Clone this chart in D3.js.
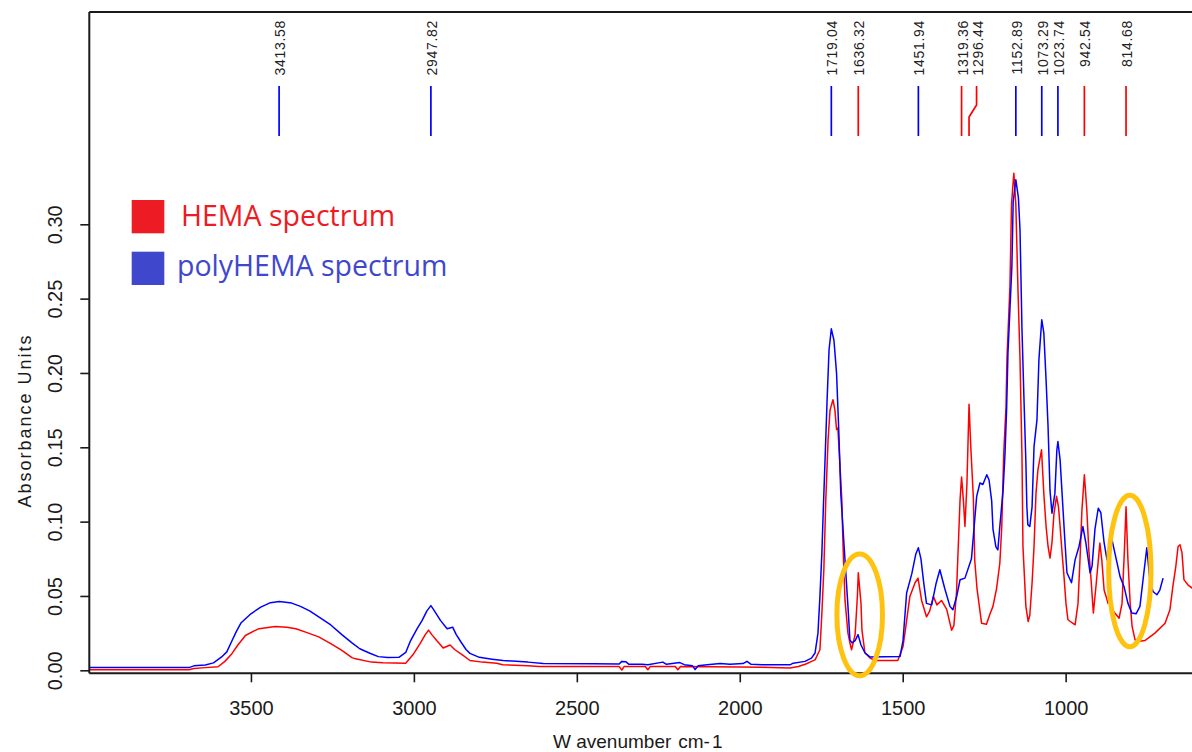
<!DOCTYPE html>
<html>
<head>
<meta charset="utf-8">
<script src="https://cdn.jsdelivr.net/npm/d3@7"></script>
<style>
  html, body { margin: 0; padding: 0; background: #fff; }
  svg { display: block; }
  .axis text { font-family: "Liberation Sans", Arial, sans-serif; fill: #1a1a1a; }
</style>
</head>
<body>
<svg id="chart" width="1192" height="752"></svg>
<script>
// ---- FTIR absorbance spectra (wavenumber in cm-1, absorbance units) ----
const hemaWavenumber = [
  4000, 3690, 3675, 3640, 3601, 3580, 3559, 3540, 3517, 3490, 3475, 3425, 3390, 3362, 3330, 3292,
  3255, 3221, 3190, 3179, 3130, 3095, 3025, 3003, 2981, 2965, 2955, 2945, 2930, 2910, 2889, 2875,
  2848, 2828, 2790, 2746, 2727, 2650, 2616, 2450, 2370, 2362, 2355, 2290, 2282, 2275, 2198, 2190,
  2182, 2000, 1933, 1846, 1820, 1795, 1780, 1769, 1754, 1748, 1742, 1736, 1729, 1723, 1714, 1708,
  1703, 1699, 1693, 1687, 1683, 1677, 1668, 1662, 1657, 1646, 1639, 1636.32, 1628, 1625, 1616, 1601,
  1585, 1515, 1499, 1490, 1478, 1462, 1453, 1442, 1427, 1417, 1406, 1395, 1381, 1365, 1350, 1343,
  1335, 1324, 1319.36, 1314, 1309, 1303, 1296.44, 1291, 1283, 1279, 1272, 1258, 1243, 1232, 1223, 1212,
  1202, 1196, 1190, 1183, 1180, 1174, 1171, 1166, 1159, 1153, 1146, 1140, 1134, 1131, 1126, 1122,
  1115, 1110, 1103, 1097, 1091, 1085, 1074, 1067, 1060, 1054, 1048, 1042, 1036, 1028, 1022, 1017,
  1011, 1005, 999, 993, 971, 962, 956, 950, 942.54, 935, 929, 922, 915, 907, 895, 889,
  882, 876, 870, 864, 858, 849, 836, 827, 820, 814.68, 809, 802, 796, 787, 778, 757,
  726, 695, 680, 671, 662, 655, 649, 643, 637, 625, 612, 597
];
const hemaAbsorbance = [
  0.0004, 0.0004, 0.0012, 0.0018, 0.0024, 0.0060, 0.0110, 0.0170, 0.0234, 0.0265, 0.0280, 0.0295, 0.0290, 0.0280, 0.0255, 0.0225,
  0.0180, 0.0134, 0.0085, 0.0077, 0.0055, 0.0050, 0.0048, 0.0104, 0.0180, 0.0240, 0.0270, 0.0240, 0.0200, 0.0150, 0.0170, 0.0140,
  0.0098, 0.0066, 0.0055, 0.0048, 0.0037, 0.0030, 0.0026, 0.0025, 0.0025, 0.0002, 0.0025, 0.0025, 0.0004, 0.0025, 0.0025, 0.0004,
  0.0025, 0.0022, 0.0020, 0.0015, 0.0025, 0.0044, 0.0060, 0.0070, 0.0138, 0.0385, 0.0676, 0.1147, 0.1550, 0.1750, 0.1820, 0.1750,
  0.1620, 0.1630, 0.1400, 0.1150, 0.0830, 0.0470, 0.0250, 0.0185, 0.0138, 0.0240, 0.0500, 0.0656, 0.0450, 0.0270, 0.0118, 0.0084,
  0.0066, 0.0066, 0.0160, 0.0300, 0.0497, 0.0589, 0.0620, 0.0470, 0.0360, 0.0400, 0.0497, 0.0440, 0.0470, 0.0410, 0.0270, 0.0300,
  0.0520, 0.1147, 0.1300, 0.1150, 0.0967, 0.1250, 0.1790, 0.1500, 0.1150, 0.0740, 0.0550, 0.0317, 0.0310, 0.0380, 0.0430, 0.0550,
  0.0720, 0.0967, 0.1460, 0.1770, 0.2100, 0.2420, 0.2580, 0.3140, 0.3344, 0.3140, 0.2540, 0.2090, 0.1438, 0.0833, 0.0610, 0.0430,
  0.0328, 0.0370, 0.0589, 0.0833, 0.1190, 0.1350, 0.1483, 0.1190, 0.0967, 0.0833, 0.0755, 0.0858, 0.1050, 0.1170, 0.1100, 0.0967,
  0.0790, 0.0630, 0.0450, 0.0340, 0.0306, 0.0450, 0.0743, 0.1080, 0.1315, 0.1080, 0.0810, 0.0610, 0.0385, 0.0564, 0.0856, 0.0740,
  0.0540, 0.0497, 0.0450, 0.0497, 0.0410, 0.0385, 0.0350, 0.0450, 0.0790, 0.1100, 0.0750, 0.0450, 0.0295, 0.0205, 0.0194, 0.0200,
  0.0250, 0.0317, 0.0407, 0.0564, 0.0698, 0.0833, 0.0844, 0.0790, 0.0610, 0.0575, 0.0553, 0.0550
];

const polyWavenumber = [
  4000, 3690, 3675, 3640, 3615, 3590, 3574, 3560, 3545, 3530, 3500, 3470, 3440, 3413.58, 3400, 3375,
  3348, 3320, 3292, 3255, 3221, 3190, 3166, 3135, 3109, 3080, 3046, 3025, 3010, 2990, 2975, 2960,
  2947.82, 2940, 2918, 2898, 2881, 2870, 2856, 2840, 2828, 2799, 2760, 2726, 2650, 2603, 2450, 2370,
  2362, 2350, 2340, 2300, 2282, 2236, 2225, 2184, 2170, 2145, 2137, 2128, 2100, 2060, 2030, 1990,
  1978, 1965, 1932, 1846, 1836, 1800, 1780, 1769, 1760, 1754, 1748, 1744, 1739, 1732, 1726, 1719.04,
  1711, 1703, 1696, 1690, 1677, 1668, 1662, 1656, 1646, 1637, 1628, 1616, 1601, 1508, 1499, 1488,
  1472, 1460, 1451.94, 1444, 1435, 1427, 1411, 1398, 1386, 1371, 1355, 1346, 1334, 1324, 1309, 1289,
  1273, 1263, 1254, 1242, 1235, 1227, 1223, 1214, 1208, 1202, 1192, 1186, 1181, 1177, 1171, 1165,
  1161, 1152.89, 1145, 1140, 1134, 1128, 1122, 1119, 1116, 1110, 1103, 1097, 1088, 1082, 1073.29, 1067,
  1060, 1054, 1048, 1042, 1033, 1027, 1023.74, 1017, 1011, 1002, 996, 982, 971, 959, 947, 938,
  925, 919, 910, 900, 892, 882, 873, 864, 859, 849, 833, 821, 809, 797, 784, 772,
  760, 751, 742, 732, 720, 711, 701
];
const polyAbsorbance = [
  0.0018, 0.0018, 0.0030, 0.0035, 0.0050, 0.0090, 0.0124, 0.0190, 0.0260, 0.0320, 0.0380, 0.0425, 0.0455, 0.0463, 0.0460, 0.0452,
  0.0430, 0.0400, 0.0360, 0.0305, 0.0240, 0.0185, 0.0145, 0.0115, 0.0092, 0.0086, 0.0087, 0.0120, 0.0200, 0.0280, 0.0334, 0.0400,
  0.0435, 0.0410, 0.0334, 0.0280, 0.0290, 0.0240, 0.0192, 0.0140, 0.0114, 0.0087, 0.0075, 0.0066, 0.0055, 0.0045, 0.0044, 0.0042,
  0.0060, 0.0058, 0.0040, 0.0040, 0.0038, 0.0055, 0.0040, 0.0052, 0.0038, 0.0030, 0.0005, 0.0030, 0.0038, 0.0045, 0.0040, 0.0045,
  0.0060, 0.0040, 0.0037, 0.0037, 0.0048, 0.0060, 0.0082, 0.0116, 0.0250, 0.0497, 0.0790, 0.1060, 0.1370, 0.1820, 0.2156, 0.2297,
  0.2220, 0.2000, 0.1600, 0.1190, 0.0740, 0.0430, 0.0205, 0.0185, 0.0200, 0.0240, 0.0170, 0.0118, 0.0090, 0.0093, 0.0200, 0.0520,
  0.0650, 0.0780, 0.0824, 0.0750, 0.0580, 0.0450, 0.0440, 0.0580, 0.0676, 0.0550, 0.0430, 0.0407, 0.0500, 0.0609, 0.0620, 0.0750,
  0.1170, 0.1260, 0.1250, 0.1315, 0.1280, 0.1140, 0.0950, 0.0830, 0.0810, 0.0967, 0.1210, 0.1460, 0.1770, 0.2135, 0.2425, 0.2716,
  0.3150, 0.3300, 0.3180, 0.2960, 0.2290, 0.1833, 0.1396, 0.1100, 0.0980, 0.0967, 0.1100, 0.1505, 0.1685, 0.2090, 0.2358, 0.2270,
  0.1950, 0.1640, 0.1210, 0.1057, 0.1190, 0.1480, 0.1539, 0.1416, 0.1190, 0.0858, 0.0656, 0.0589, 0.0743, 0.0833, 0.0967, 0.0858,
  0.0656, 0.0700, 0.0950, 0.1090, 0.1060, 0.0858, 0.0743, 0.0850, 0.0890, 0.0790, 0.0630, 0.0564, 0.0452, 0.0385, 0.0380, 0.0430,
  0.0656, 0.0824, 0.0620, 0.0530, 0.0508, 0.0540, 0.0620
];

// Assigned band positions; each marker takes the colour of the spectrum it belongs to
const peakWavenumbers = [3413.58, 2947.82, 1719.04, 1636.32, 1451.94, 1319.36, 1296.44, 1152.89, 1073.29, 1023.74, 942.54, 814.68];
const peakSeries      = ["poly", "poly", "poly", "hema", "poly", "hema", "hema", "poly", "poly", "poly", "hema", "hema"];

// Regions highlighted with ellipses: [centre wavenumber, centre absorbance, half-width cm-1, half-height AU]
const highlightRegions = [
  [1632, 0.0373, 70, 0.041],
  [803, 0.0668, 65, 0.051]
];

const xTickValues = [3500, 3000, 2500, 2000, 1500, 1000];
const yTickValues = [0.00, 0.05, 0.10, 0.15, 0.20, 0.25, 0.30];

const legendLabels = ["HEMA spectrum", "polyHEMA spectrum"];

// ---- layout ----
const W = 1192, H = 752;
const plotLeft = 89.3, plotRight = 1196, plotTop = 12, plotBottom = 673.3;
const colors = { hema: "#ff0000", poly: "#0000ff" };
const legendColors = { hema: "#ed1c24", poly: "#3f48cc" };

const svg = d3.select("#chart");

const x = d3.scaleLinear().domain([3996, 600]).range([plotLeft, plotRight]);
const y = d3.scaleLinear().domain([0, 0.30]).range([670.3, 224.3]);

// clip for the spectra
svg.append("defs").append("clipPath").attr("id", "plot-clip")
  .append("rect")
  .attr("x", plotLeft).attr("y", plotTop)
  .attr("width", plotRight - plotLeft).attr("height", plotBottom - plotTop);

// ---- axes ----
const xAxis = d3.axisBottom(x)
  .tickValues(xTickValues)
  .tickFormat(d3.format("d"))
  .tickSize(9)
  .tickSizeOuter(0)
  .tickPadding(19);

const gx = svg.append("g").attr("class", "axis")
  .attr("transform", `translate(0,${plotBottom})`)
  .call(xAxis);
gx.select(".domain").remove();
gx.selectAll(".tick line").attr("stroke", "#1a1a1a").attr("stroke-width", 1.6);
gx.selectAll(".tick text").attr("font-size", 20);

const yAxis = d3.axisLeft(y)
  .tickValues(yTickValues)
  .tickFormat(d3.format(".2f"))
  .tickSize(9)
  .tickSizeOuter(0);

const gy = svg.append("g").attr("class", "axis")
  .attr("transform", `translate(${plotLeft},0)`)
  .call(yAxis);
gy.select(".domain").remove();
gy.selectAll(".tick line").attr("stroke", "#1a1a1a").attr("stroke-width", 1.6);
gy.selectAll(".tick text")
  .attr("font-size", 20)
  .attr("text-anchor", "middle")
  .attr("x", 0)
  .attr("y", -27.6)
  .attr("dy", null)
  .attr("transform", "rotate(-90)");

// axis titles
const xTitle = svg.append("text")
  .attr("x", 553).attr("y", 748)
  .attr("font-family", "Liberation Sans, Arial, sans-serif")
  .attr("font-size", 19)
  .attr("fill", "#1a1a1a");
xTitle.append("tspan").text("W");
xTitle.append("tspan").attr("dx", 6).text("avenumber");
xTitle.append("tspan").attr("dx", 7).text("cm-");
xTitle.append("tspan").attr("dx", 2).text("1");

svg.append("text")
  .attr("transform", "translate(31,421.5) rotate(-90)")
  .attr("text-anchor", "middle")
  .attr("font-family", "Liberation Sans, Arial, sans-serif")
  .attr("font-size", 18)
  .attr("textLength", 172)
  .attr("lengthAdjust", "spacing")
  .attr("fill", "#1a1a1a")
  .text("Absorbance Units");

// ---- spectra ----
const line = d3.line()
  .x(d => x(d[0]))
  .y(d => y(d[1]));

const spectra = [
  { key: "hema", data: d3.zip(hemaWavenumber, hemaAbsorbance) },
  { key: "poly", data: d3.zip(polyWavenumber, polyAbsorbance) }
];

svg.append("g").attr("clip-path", "url(#plot-clip)")
  .selectAll("path")
  .data(spectra)
  .join("path")
  .attr("d", d => line(d.data))
  .attr("fill", "none")
  .attr("stroke", d => colors[d.key])
  .attr("stroke-width", 1.5)
  .attr("stroke-linejoin", "round");

// ---- frame (left, top, bottom; right side runs off the canvas) ----
const frame = svg.append("g").attr("stroke", "#1a1a1a").attr("stroke-width", 2).attr("fill", "none");
frame.append("line").attr("x1", plotLeft).attr("x2", W).attr("y1", plotTop).attr("y2", plotTop);
frame.append("line").attr("x1", plotLeft).attr("x2", W).attr("y1", plotBottom).attr("y2", plotBottom);
frame.append("line").attr("x1", plotLeft).attr("x2", plotLeft).attr("y1", plotTop).attr("y2", plotBottom);

// ---- peak markers with rotated labels; crowded labels are nudged right ----
const peaks = peakWavenumbers.map((w, i) => ({ w, series: peakSeries[i], px: x(w) }))
  .sort((a, b) => a.px - b.px);
const minGap = 15;
peaks.forEach((p, i) => {
  p.lx = i === 0 ? p.px : Math.max(p.px, peaks[i - 1].lx + minGap);
});

const markerTop = 86, markerBend1 = 105, markerBend2 = 117, markerBottom = 136;
const pg = svg.append("g");
pg.selectAll("path")
  .data(peaks)
  .join("path")
  .attr("d", p => p.lx === p.px
    ? `M${p.px},${markerTop}V${markerBottom}`
    : `M${p.lx},${markerTop}V${markerBend1}L${p.px},${markerBend2}V${markerBottom}`)
  .attr("fill", "none")
  .attr("stroke", p => colors[p.series])
  .attr("stroke-width", 1.7);

pg.selectAll("text")
  .data(peaks)
  .join("text")
  .attr("transform", p => `translate(${p.lx + 6},20) rotate(-90)`)
  .attr("text-anchor", "end")
  .attr("font-family", "Liberation Sans, Arial, sans-serif")
  .attr("font-size", 14)
  .attr("letter-spacing", 0.7)
  .attr("fill", "#222")
  .text(p => p.w.toFixed(2));

// ---- highlighted regions ----
svg.append("g").selectAll("ellipse")
  .data(highlightRegions)
  .join("ellipse")
  .attr("cx", d => x(d[0]))
  .attr("cy", d => y(d[1]))
  .attr("rx", d => Math.abs(x(d[0] + d[2]) - x(d[0])))
  .attr("ry", d => Math.abs(y(d[1] + d[3]) - y(d[1])))
  .attr("fill", "none")
  .attr("stroke", "#ffc20e")
  .attr("stroke-width", 5);

// ---- legend ----
const legend = svg.append("g");
const legendRows = [
  { key: "hema", label: legendLabels[0], sy: 200, tx: 181, ty: 226 },
  { key: "poly", label: legendLabels[1], sy: 251.7, tx: 177, ty: 276 }
];
legend.selectAll("rect")
  .data(legendRows)
  .join("rect")
  .attr("x", 131.7).attr("y", d => d.sy)
  .attr("width", 32.6).attr("height", 33.3)
  .attr("fill", d => legendColors[d.key]);
legend.selectAll("text")
  .data(legendRows)
  .join("text")
  .attr("x", d => d.tx).attr("y", d => d.ty)
  .attr("font-family", "Open Sans, Noto Sans, sans-serif")
  .attr("font-size", 28.5)
  .attr("fill", d => legendColors[d.key])
  .text(d => d.label);
</script>
</body>
</html>
